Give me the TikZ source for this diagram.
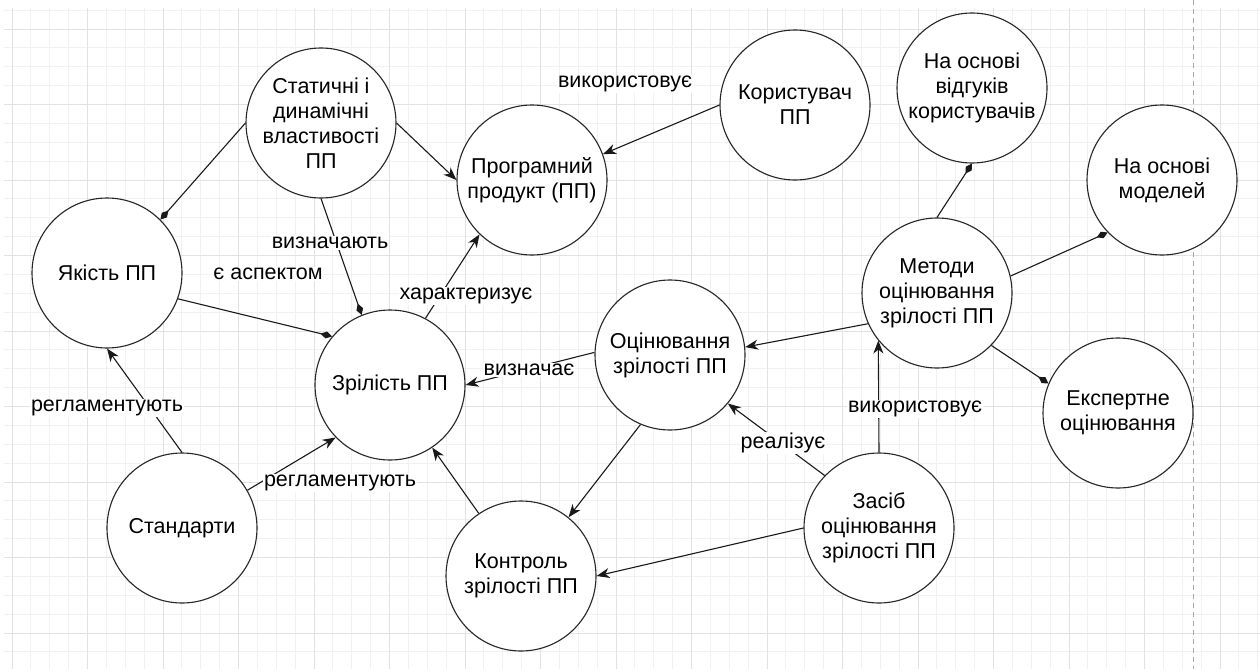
\documentclass[tikz,border=0pt]{standalone}
\usepackage{fontspec}
\setmainfont{Liberation Sans}
\usetikzlibrary{arrows.meta}
\definecolor{gridminor}{HTML}{F1F1F1}
\definecolor{gridmajor}{HTML}{E2E2E2}
\definecolor{dashgray}{HTML}{A8A8A8}
\tikzset{
  circ/.style={circle,draw=black!85,line width=1.1pt,fill=white,minimum size=150pt,inner sep=0pt,align=center,font=\fontsize{21.5}{25}\selectfont},
  lbl/.style={fill=white,inner sep=1pt,font=\fontsize{21.5}{25}\selectfont},
  con/.style={draw=black!90,line width=1.1pt},
  arr/.style={con,-{Stealth[length=13pt,width=10pt,inset=4pt]}},
  dia/.style={con,-{Diamond[length=12pt,width=7pt]}}
}
\begin{document}
\begin{tikzpicture}[x=1pt,y=-1pt]
\useasboundingbox (0,0) rectangle (1260,669);
\fill[white] (0,0) rectangle (1260,669);
% grid
\foreach \i in {0,...,66} {
  \pgfmathsetmacro{\xx}{12+18.875*\i}
  \draw[gridminor,line width=0.8pt] (\xx,8) -- (\xx,669);
}
\foreach \i in {-1,...,34} {
  \pgfmathsetmacro{\yy}{29+18.875*\i}
  \draw[gridminor,line width=0.8pt] (4,\yy) -- (1260,\yy);
}
\foreach \i in {0,...,16} {
  \pgfmathsetmacro{\xx}{12+75.5*\i}
  \draw[gridmajor,line width=0.9pt] (\xx,8) -- (\xx,669);
}
\foreach \i in {0,...,8} {
  \pgfmathsetmacro{\yy}{29+75.5*\i}
  \draw[gridmajor,line width=0.9pt] (4,\yy) -- (1260,\yy);
}
\draw[dashgray,line width=0.9pt,dash pattern=on 5pt off 4pt] (1193,0) -- (1193,669);

% nodes
\node[circ] (stat) at (321,123) {Статичні і\\динамічні\\властивості\\ПП};
\node[circ] (prog) at (532,180) {Програмний\\продукт (ПП)};
\node[circ] (kor) at (795,105) {Користувач\\ПП};
\node[circ] (vidg) at (972,88) {На основі\\відгуків\\користувачів};
\node[circ] (model) at (1162,180) {На основі\\моделей};
\node[circ] (yak) at (107,273) {Якість ПП};
\node[circ] (zril) at (390,385) {Зрілість ПП};
\node[circ] (metody) at (937,293) {Методи\\оцінювання\\зрілості ПП};
\node[circ] (otsin) at (670,355) {Оцінювання\\зрілості ПП};
\node[circ] (ekspert) at (1118,413) {Експертне\\оцінювання};
\node[circ] (stand) at (182,528) {Стандарти};
\node[circ] (kontr) at (521,576) {Контроль\\зрілості ПП};
\node[circ] (zasib) at (879,528) {Засіб\\оцінювання\\зрілості ПП};

% connectors
\draw[dia] (stat.180) -- (yak.45);
\draw[arr] (stat.0) -- (prog.180);
\draw[dia] (stat.-90) -- (zril.112);
\draw[arr] (kor.180) -- (prog.20);
\draw[dia] (yak.-20) -- (zril.140);
\draw[arr] (zril.62) -- (prog.226);
\draw[arr] (otsin.178) -- (zril.0);
\draw[arr] (metody.204) -- (otsin.6);
\draw[dia] (metody.90) -- (vidg.-90);
\draw[dia] (metody.13) -- (model.224);
\draw[dia] (metody.-44) -- (ekspert.157);
\draw[arr] (otsin.247) -- (kontr.51);
\draw[arr] (zasib.136) -- (otsin.-40);
\draw[arr] (zasib.90) -- (metody.219);
\draw[arr] (zasib.180) -- (kontr.0);
\draw[arr] (kontr.124) -- (zril.-56);
\draw[arr] (stand.90) -- (yak.-90);
\draw[arr] (stand.30) -- (zril.224);

% labels
\node[lbl] (l1) at (625,84) {використовує};
\node[lbl] (l2) at (330,243) {визначають};
\node[lbl] (l3) at (268,274) {є аспектом};
\node[lbl] (l4) at (466,296) {характеризує};
\node[lbl] (l5) at (529,370) {визначає};
\node[lbl] (l6) at (107,408) {регламентують};
\node[lbl] (l7) at (340,483) {регламентують};
\node[lbl] (l8) at (783,443) {реалізує};
\node[lbl] (l9) at (915,409) {використовує};
\end{tikzpicture}
\end{document}
